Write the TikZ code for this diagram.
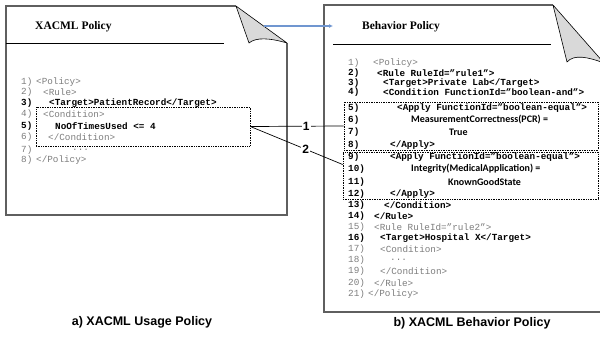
\documentclass[tikz,border=0pt]{standalone}
\usepackage{fontspec}
\setmainfont{Liberation Serif}
\newfontfamily\codefont{Liberation Mono}
\newfontfamily\califont{Carlito}
\newfontfamily\capfont{Liberation Sans}
\usetikzlibrary{arrows.meta}

\definecolor{foldgrey}{RGB}{217,217,217}
\definecolor{arrowblue}{RGB}{112,150,208}
\definecolor{codegrey}{RGB}{125,125,125}
\definecolor{pagegrey}{RGB}{95,95,95}

\begin{document}
\begin{tikzpicture}[x=1pt,y=-1pt,
  page/.style={draw=pagegrey,line width=1.1pt},
  fold/.style={draw=black,fill=foldgrey,line width=0.6pt,line join=round},
  rulebar/.style={line width=0.8pt},
  title/.style={font=\fontsize{11.5}{13}\selectfont\bfseries,anchor=west,inner sep=0pt},
  codegray/.style={font=\codefont\fontsize{9.3}{11}\selectfont,text=codegrey,anchor=west,inner sep=0pt},
  codebold/.style={font=\codefont\bfseries\fontsize{9.3}{11}\selectfont,anchor=west,inner sep=0pt},
  expr/.style={font=\califont\bfseries\fontsize{10}{12}\selectfont,anchor=west,inner sep=0pt},
  dotbox/.style={draw,densely dotted,line width=0.7pt,inner sep=0pt},
  link/.style={line width=0.7pt},
  numlbl/.style={font=\capfont\bfseries\fontsize{12}{14}\selectfont,fill=white,inner sep=1pt},
  caption/.style={font=\capfont\bfseries\fontsize{12.5}{14}\selectfont}
]
\useasboundingbox (0,0) rectangle (600,337);

% left page with folded corner
\draw[page] (236,6) -- (6,6) -- (6,215) -- (287,215) -- (287,43);
\draw[fold] (236,6) -- (287,43) .. controls (270,38) and (256,37) .. (249,43) -- cycle;
\draw[rulebar] (6,43) -- (224,43);
\node[title] (titleA) at (35,27) {XACML Policy};

% right page with folded corner
\draw[page] (553,5) -- (324,5) -- (324,312) -- (606,312);
\draw[fold] (553,5) -- (604,63) .. controls (588,57) and (574,54) .. (567,62) -- cycle;
\draw[rulebar] (333,44) -- (551,44);
\node[title] (titleB) at (362,27) {Behavior Policy};

% blue arrow between the pages
\coordinate (foldA) at (264,26);
\coordinate (arrowEnd) at (333,26);
\draw[arrowblue,line width=1.1pt,-{Latex[length=4pt,width=4pt]}] (foldA) -- (arrowEnd);

% dotted boxes
\node[dotbox,minimum width=214pt,minimum height=39pt] (condA) at (143,126.5) {};
\node[dotbox,minimum width=254pt,minimum height=48pt] (applyA) at (471,126) {};
\node[dotbox,minimum width=255pt,minimum height=47pt] (applyB) at (470.5,175.5) {};

% usage policy code
\node[codegray] (a1n) at (21,82) {1)};   \node[codegray] (a1) at (36,82) {<Policy>};
\node[codegray] (a2n) at (21,92) {2)};   \node[codegray] (a2) at (43,92) {<Rule>};
\node[codebold] (a3n) at (21,103) {3)};  \node[codebold] (a3) at (49,103) {<Target>PatientRecord</Target>};
\node[codegray] (a4n) at (21,114) {4)};  \node[codegray] (a4) at (43,114) {<Condition>};
\node[codebold] (a5n) at (21,126) {5)};  \node[codebold] (a5) at (55,126) {NoOfTimesUsed <= 4};
\node[codegray] (a6n) at (21,137) {6)};  \node[codegray] (a6) at (48,137) {</Condition>};
\node[codegray] (a7n) at (21,150) {7)};  \node[codegray] (a7) at (72,150) {...};
\node[codegray] (a8n) at (21,160) {8)};  \node[codegray] (a8) at (36,160) {</Policy>};

% behavior policy code
\node[codegray] (b1n) at (348,63) {1)};   \node[codegray] (b1) at (373,63) {<Policy>};
\node[codebold] (b2n) at (348,73) {2)};   \node[codebold] (b2) at (377,73) {<Rule RuleId=”rule1”>};
\node[codebold] (b3n) at (348,83) {3)};   \node[codebold] (b3) at (383,83) {<Target>Private Lab</Target>};
\node[codebold] (b4n) at (348,92) {4)};   \node[codebold] (b4) at (383,92) {<Condition FunctionId=”boolean-and”>};
\node[codebold] (b5n) at (348,108) {5)};  \node[codebold] (b5) at (397,108) {<Apply FunctionId=”boolean-equal”>};
\node[codebold] (b6n) at (348,120) {6)};  \node[expr] (b6) at (411,120) {MeasurementCorrectness(PCR) =};
\node[codebold] (b7n) at (348,132) {7)};  \node[expr] (b7) at (449,132) {True};
\node[codebold] (b8n) at (348,145) {8)};  \node[codebold] (b8) at (390,145) {</Apply>};
\node[codebold] (b9n) at (348,157) {9)};  \node[codebold] (b9) at (390,157) {<Apply FunctionId=”boolean-equal”>};
\node[codebold] (b10n) at (348,169) {10)}; \node[expr] (b10) at (411,169) {Integrity(MedicalApplication) =};
\node[codebold] (b11n) at (348,182) {11)}; \node[expr] (b11) at (448,182) {KnownGoodState};
\node[codebold] (b12n) at (348,194) {12)}; \node[codebold] (b12) at (390,194) {</Apply>};
\node[codebold] (b13n) at (348,205) {13)}; \node[codebold] (b13) at (384,205) {</Condition>};
\node[codebold] (b14n) at (348,216) {14)}; \node[codebold] (b14) at (374,216) {</Rule>};
\node[codegray] (b15n) at (348,227) {15)}; \node[codegray] (b15) at (374,227) {<Rule RuleId=”rule2”>};
\node[codebold] (b16n) at (348,238) {16)}; \node[codebold] (b16) at (380,238) {<Target>Hospital X</Target>};
\node[codegray] (b17n) at (348,249) {17)}; \node[codegray] (b17) at (380,249) {<Condition>};
\node[codegray] (b18n) at (348,260) {18)}; \node[codegray] (b18) at (390,260) {...};
\node[codegray] (b19n) at (348,271) {19)}; \node[codegray] (b19) at (380,271) {</Condition>};
\node[codegray] (b20n) at (348,283) {20)}; \node[codegray] (b20) at (374,283) {</Rule>};
\node[codegray] (b21n) at (348,294) {21)}; \node[codegray] (b21) at (368,294) {</Policy>};

% connectors 1 and 2
\draw[link] (condA.east) -- node[numlbl,pos=0.6] {1} (applyA.west);
\draw[link] (condA.east) -- node[numlbl,pos=0.6] {2} ([yshift=11pt]applyB.west);

% captions
\node[caption] (capA) at (142,322) {a) XACML Usage Policy};
\node[caption] (capB) at (472,323) {b) XACML Behavior Policy};

\end{tikzpicture}
\end{document}
